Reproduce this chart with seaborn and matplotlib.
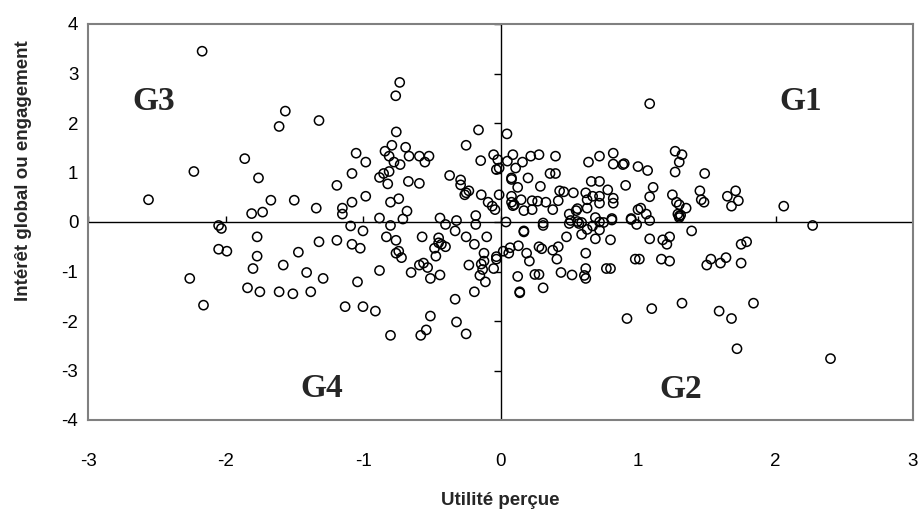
import matplotlib
matplotlib.use("Agg")
import matplotlib.pyplot as plt
import seaborn as sns
import pandas as pd

sns.set_style("white")
plt.rcParams['font.family'] = ['Liberation Sans', 'DejaVu Sans']
plt.rcParams['axes.unicode_minus'] = False

# ---- data ----
utilite = [
    -2.17, -2.23, -2.56, -2.05, -2.03, -2.05, -1.99, -2.26, -2.16,
    -1.565, -1.61, -1.32, -1.86, -1.76, -1.05, -0.98, -1.08, -1.19, -0.98, -1.67, -1.50, -1.81, -1.73,
    -1.34, -1.15, -1.15, -1.08, -1.09,
    -1.77, -1.77, -1.80, -1.84, -1.75, -1.61, -1.51, -1.38, -1.58, -1.47, -1.41, -1.29, -1.32, -1.19,
    -1.00, -1.08, -1.02, -1.04, -1.13, -1.00,
    -0.733, -0.762, -0.758, -0.16, -0.79, -0.84, -0.81, -0.69, -0.775, -0.73, -0.665, -0.59, -0.55,
    -0.52, -0.25, -0.144, -0.05, -0.02, -0.03, -0.01, -0.88, -0.85, -0.81, -0.82, -0.67, -0.59, -0.80,
    -0.74, -0.68, -0.88, -0.71, -0.80, -0.37, -0.29, -0.29, -0.25, -0.23, -0.26, -0.14, -0.09, -0.06,
    -0.04, -0.01, -0.18, -0.44, -0.40, -0.32, -0.18,
    -0.83, -0.76, -0.76, -0.74, -0.72, -0.88, -0.91, -0.80, -0.58, -0.54, -0.51, -0.32, -0.25, -0.33,
    -0.19, -0.11, -0.15, -0.13, -0.14, -0.12, -0.12, -0.05, -0.03, -0.03, -0.23, -0.65, -0.59, -0.56,
    -0.53, -0.51, -0.44, -0.47, -0.48, -0.45, -0.45, -0.43, -0.40, -0.57, -0.33, -0.25, -0.19, -0.10,
    0.047, 0.09, 0.05, 0.16, 0.22, 0.28, 0.40, 0.11, 0.08, 0.08, 0.20, 0.36, 0.40, 0.125, 0.29, 0.43,
    0.46, 0.53, 0.08, 0.08, 0.10, 0.09, 0.15, 0.17, 0.23, 0.27, 0.33, 0.23, 0.38, 0.42, 0.31, 0.50,
    0.55, 0.56, 0.51, 0.62, 0.66, 0.72, 0.64, 0.72, 0.82, 0.82, 0.89, 0.90, 1.00, 0.91, 0.78, 0.63,
    0.67, 0.72, 0.72, 0.82, 0.82, 0.63, 0.69, 0.81, 0.95, 1.00, 0.04, 0.56, 0.59, 0.72,
    0.17, 0.17, 0.31, 0.02, 0.07, 0.06, 0.13, 0.19, 0.21, 0.125, 0.14, 0.14, 0.25, 0.28, 0.31,
    0.28, 0.30, 0.38, 0.42, 0.41, 0.44, 0.52, 0.48, 0.50, 0.57, 0.59, 0.63, 0.67, 0.72, 0.75, 0.81,
    0.69, 0.80, 0.62, 0.62, 0.61, 0.62, 0.77, 0.80, 0.92, 0.98, 1.01, 0.95, 0.99,
    1.085, 1.27, 1.32, 1.30, 1.27, 1.485, 1.07, 1.11, 1.085, 1.25, 1.28, 1.30, 1.35, 1.29, 1.31,
    1.30, 1.45, 1.46, 1.48, 1.65, 1.71, 1.73, 1.68, 1.02, 1.06, 1.085, 1.30,
    2.06, 2.27, 2.40,
    1.085, 1.18, 1.23, 1.21, 1.39, 1.17, 1.23, 1.50, 1.53, 1.60, 1.64, 1.75, 1.75, 1.79, 1.10, 1.32,
    1.59, 1.68, 1.84, 1.72,
]
interet = [
    3.45, 1.02, 0.45, -0.07, -0.13, -0.55, -0.59, -1.14, -1.68,
    2.24, 1.93, 2.05, 1.28, 0.89, 1.39, 1.21, 0.98, 0.74, 0.52, 0.44, 0.44, 0.17, 0.20,
    0.28, 0.28, 0.16, 0.40, -0.08,
    -0.30, -0.69, -0.94, -1.33, -1.41, -1.41, -1.45, -1.41, -0.87, -0.61, -1.02, -1.14, -0.40, -0.37,
    -0.18, -0.45, -0.53, -1.21, -1.71, -1.71,
    2.82, 2.55, 1.82, 1.86, 1.55, 1.43, 1.33, 1.51, 1.21, 1.16, 1.33, 1.33, 1.21,
    1.33, 1.55, 1.24, 1.36, 1.26, 1.06, 1.09, 0.90, 0.98, 1.02, 0.77, 0.82, 0.78, 0.40,
    0.47, 0.22, 0.08, 0.06, -0.07, 0.94, 0.85, 0.75, 0.59, 0.63, 0.55, 0.55, 0.40, 0.32,
    0.25, 0.55, 0.13, 0.08, -0.05, 0.03, -0.05,
    -0.30, -0.37, -0.63, -0.59, -0.72, -0.98, -1.80, -2.29, -2.29, -2.18, -1.90, -2.02, -2.26, -1.56,
    -1.41, -1.21, -1.08, -0.96, -0.85, -0.79, -0.63, -0.94, -0.75, -0.70, -0.87, -1.02, -0.87, -0.83,
    -0.92, -1.14, -1.07, -0.69, -0.53, -0.32, -0.42, -0.45, -0.50, -0.30, -0.18, -0.30, -0.45, -0.30,
    1.78, 1.36, 1.23, 1.21, 1.33, 1.36, 1.33, 1.09, 0.89, 0.86, 0.89, 0.98, 0.98, 0.70, 0.72, 0.63,
    0.61, 0.59, 0.52, 0.40, 0.35, 0.33, 0.45, 0.23, 0.43, 0.42, 0.40, 0.25, 0.25, 0.43, -0.02, 0.16,
    0.23, 0.27, 0.03, 0.59, 0.82, 0.82, 1.21, 1.33, 1.39, 1.17, 1.16, 1.18, 1.12, 0.74, 0.65, 0.45,
    0.52, 0.52, 0.38, 0.48, 0.38, 0.28, 0.09, 0.07, 0.07, 0.25, 0.00, 0.01, -0.01, 0.00,
    -0.18, -0.20, -0.07, -0.59, -0.52, -0.63, -0.48, -0.63, -0.79, -1.10, -1.41, -1.43, -1.06, -1.06, -1.33,
    -0.50, -0.54, -0.57, -0.50, -0.75, -1.02, -1.07, -0.30, -0.03, -0.03, -0.25, -0.15, -0.08, -0.16, -0.01, 0.04,
    -0.34, -0.36, -0.63, -0.94, -1.08, -1.14, -0.94, -0.94, -1.95, -0.75, -0.75, 0.05, -0.05,
    2.39, 1.43, 1.36, 1.21, 1.01, 0.98, 1.04, 0.70, 0.51, 0.55, 0.40, 0.35, 0.28, 0.16, 0.14,
    0.12, 0.63, 0.45, 0.40, 0.52, 0.63, 0.43, 0.32, 0.28, 0.16, 0.03, 0.09,
    0.32, -0.07, -2.76,
    -0.34, -0.36, -0.30, -0.45, -0.18, -0.75, -0.79, -0.87, -0.75, -0.83, -0.72, -0.83, -0.45, -0.40, -1.75, -1.64,
    -1.80, -1.95, -1.64, -2.56,
]

groupes = ["G1", "G2", "G3", "G4"]
groupe_x = [2.18, 1.31, -2.52, -1.30]
groupe_y = [2.44, -3.38, 2.44, -3.37]

x_ticks = [-3, -2, -1, 0, 1, 2, 3]
y_ticks = [-4, -3, -2, -1, 0, 1, 2, 3, 4]

df = pd.DataFrame({"Utilité perçue": utilite, "Intérêt": interet})

fig = plt.figure(figsize=(9.22, 5.12), dpi=100)
ax = fig.add_axes([88 / 922, 1 - 420 / 512, (913 - 88) / 922, (420 - 24) / 512])

sns.scatterplot(data=df, x="Utilité perçue", y="Intérêt", ax=ax,
                facecolor="none", edgecolor="black", s=44, linewidth=1.1, zorder=3)

ax.set_xlim(-3, 3)
ax.set_ylim(-4, 4)

# zero axes with tick marks (Excel style)
ax.axhline(0, color="black", lw=1, zorder=2)
ax.axvline(0, color="black", lw=1, zorder=2)
ax.vlines(x_ticks, 0, 0.12, color="black", lw=1, zorder=2)
ax.hlines(y_ticks, -0.05, 0, color="black", lw=1, zorder=2)

ax.set_xticks(x_ticks)
ax.set_yticks(y_ticks)
ax.set_xticklabels([str(v) for v in x_ticks])
ax.set_yticklabels([str(v) for v in y_ticks])
ax.tick_params(axis="both", length=0, labelsize=13.5, colors="black")
ax.tick_params(axis="x", pad=24)
ax.tick_params(axis="y", pad=7)

for s in ax.spines.values():
    s.set_color("#808080")
    s.set_linewidth(1.5)

ax.set_xlabel("Utilité perçue", fontsize=13.5, fontweight="bold")
ax.set_ylabel("Intérêt global ou engagement", fontsize=13.5, fontweight="bold")
ax.xaxis.set_label_coords(0.5, -0.182)
ax.yaxis.set_label_coords(-0.068, 0.63)

for g, gx, gy in zip(groupes, groupe_x, groupe_y):
    ax.text(gx, gy, g, ha="center", va="center", fontsize=24, fontweight="bold",
            family=["Liberation Serif", "DejaVu Serif"], zorder=4)

fig.savefig("out.png", dpi=100)
